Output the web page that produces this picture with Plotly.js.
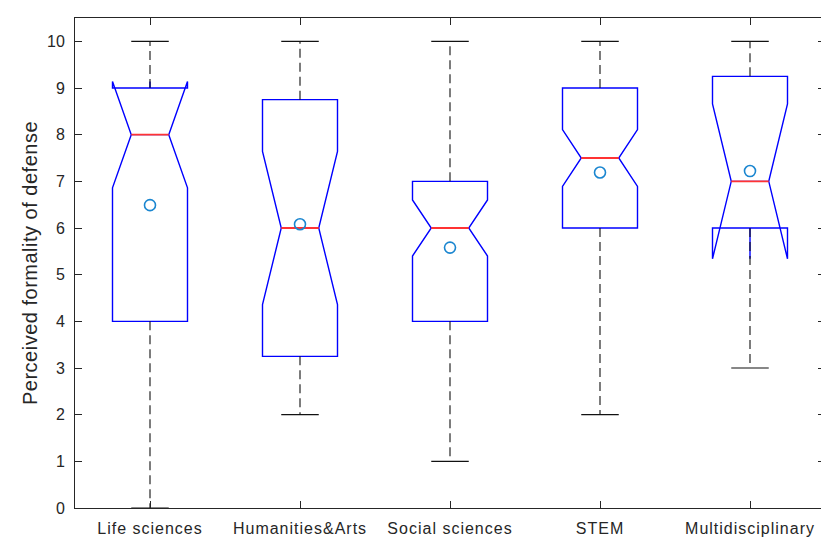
<!DOCTYPE html>
<html><head><meta charset="utf-8">
<script src="https://cdn.plot.ly/plotly-3.0.1.min.js"></script>
<style>
html,body{margin:0;padding:0;overflow:hidden;background:#fff;}
#chart{width:830px;height:539px;}
.xtick text{letter-spacing:1px;}
.ytitle{letter-spacing:0.5px;}
</style></head><body><div id="chart"></div>
<script>
// ---- data ----
const categories = ['Life sciences', 'Humanities&Arts', 'Social sciences', 'STEM', 'Multidisciplinary'];
const q1 = [4, 3.25, 4, 6, 6];
const medians = [8, 6, 6, 7.5, 7];
const q3 = [9, 8.75, 7, 9, 9.25];
const whiskerLow = [0, 2, 1, 2, 3];
const whiskerHigh = [10, 10, 10, 10, 10];
const notchSpan = [1.14, 1.64, 0.6, 0.61, 1.66];
const means = [6.49, 6.08, 5.58, 7.19, 7.22];
const yTicks = [0, 1, 2, 3, 4, 5, 6, 7, 8, 9, 10];

// ---- styling ----
const pos = categories.map((c, i) => i + 1);
const boxWidth = 0.5;
const innerHalf = boxWidth / 4;   // notch waist / cap half-width
const axisCol = '#262626';
const font = 'Liberation Sans, Arial, Helvetica, sans-serif';

// whiskers (dashed) and caps (solid)
const wx = [], wy = [], cx = [], cy = [], mx = [], my = [];
pos.forEach((p, i) => {
  wx.push(p, p, null, p, p, null);
  wy.push(q3[i], whiskerHigh[i], null, q1[i], whiskerLow[i], null);
  cx.push(p - innerHalf, p + innerHalf, null, p - innerHalf, p + innerHalf, null);
  cy.push(whiskerHigh[i], whiskerHigh[i], null, whiskerLow[i], whiskerLow[i], null);
  mx.push(p - innerHalf, p + innerHalf, null);
  my.push(medians[i], medians[i], null);
});

const traces = [
  {
    type: 'box', x: pos, q1: q1, median: medians, q3: q3,
    lowerfence: q1, upperfence: q3, notchspan: notchSpan,
    notched: true, notchwidth: 0.25, width: boxWidth, whiskerwidth: 0,
    boxpoints: false, fillcolor: 'rgba(0,0,0,0)',
    line: {color: '#0000ff', width: 1.4}, hoverinfo: 'skip', showlegend: false
  },
  {type: 'scatter', mode: 'lines', x: wx, y: wy, line: {color: '#111', width: 1.1, dash: '9px,5px'}, hoverinfo: 'skip', showlegend: false},
  {type: 'scatter', mode: 'lines', x: cx, y: cy, line: {color: '#111', width: 1.1}, hoverinfo: 'skip', showlegend: false},
  {type: 'scatter', mode: 'lines', x: mx, y: my, line: {color: '#ff3333', width: 1.8}, hoverinfo: 'skip', showlegend: false},
  {type: 'scatter', mode: 'markers', x: pos, y: means,
   marker: {symbol: 'circle-open', size: 11, color: '#1a86d0', line: {width: 1.6, color: '#1a86d0'}},
   hoverinfo: 'skip', showlegend: false}
];

const layout = {
  width: 830, height: 539,
  margin: {l: 75, r: 5, t: 18, b: 31},
  paper_bgcolor: '#fff', plot_bgcolor: '#fff',
  showlegend: false,
  font: {family: font, color: axisCol},
  xaxis: {
    range: [0.5, 5.5], tickvals: pos, ticktext: categories,
    showgrid: false, zeroline: false,
    showline: true, linecolor: axisCol, linewidth: 1, mirror: 'ticks',
    ticks: 'inside', ticklen: 7, tickcolor: axisCol, tickwidth: 1,
    tickfont: {size: 16, color: axisCol, family: font}, ticklabelstandoff: 6
  },
  yaxis: {
    range: [0, 10.5], tickvals: yTicks,
    showgrid: false, zeroline: false,
    showline: true, linecolor: axisCol, linewidth: 1, mirror: 'ticks',
    ticks: 'inside', ticklen: 7, tickcolor: axisCol, tickwidth: 1,
    tickfont: {size: 16, color: axisCol, family: font}, ticklabelstandoff: 6,
    title: {text: 'Perceived formality of defense', font: {size: 20, color: axisCol, family: font}, standoff: 4}
  }
};

Plotly.newPlot('chart', traces, layout, {displayModeBar: false, staticPlot: true});
</script></body></html>
